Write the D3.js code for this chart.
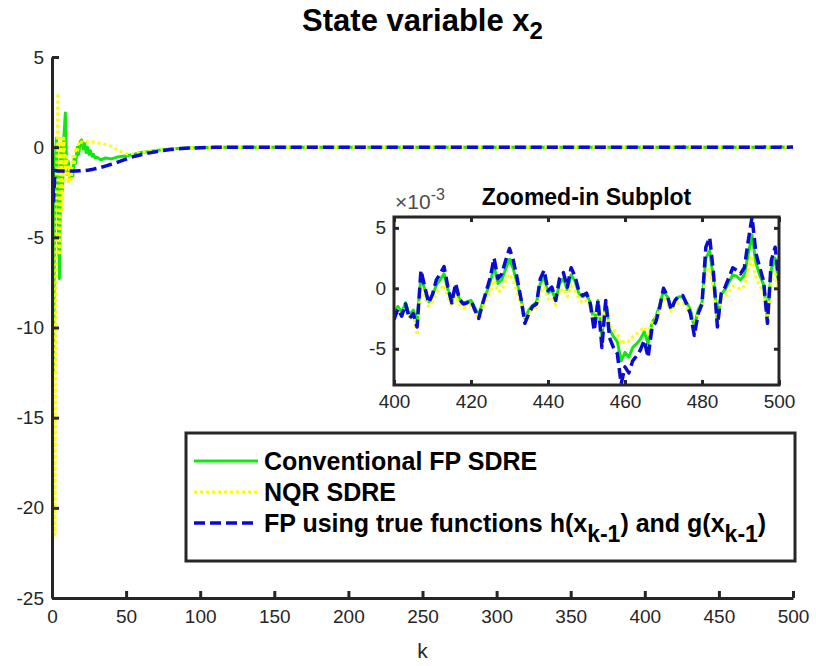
<!DOCTYPE html>
<html>
<head>
<meta charset="utf-8">
<script src="https://cdn.jsdelivr.net/npm/d3@7/dist/d3.min.js"></script>
<style>
  body { margin: 0; background: #fff; }
  text { font-family: "Liberation Sans", Arial, Helvetica, sans-serif; }
</style>
</head>
<body>
<div id="chart"></div>
<script>
// ---- data ----
// transient part of x2 (k, value)
const transK = [0,1,2,3,4,5,6,7,8,9,10,11,12,13,14,15,16,17,18,19,20,21,22,23,24,25,26,27,28,29,30,
  33,36,40,44,48,52,56,60,65,70,75,80,85,90,100,110,130,150];
const convTrans = [-0.5,-12.5,-1.0,0.5,-3.0,-7.3,0.0,-2.5,0.5,1.9,-1.5,-0.8,-1.8,-1.2,-1.6,-0.6,-0.9,0.0,-0.4,0.3,0.4,
  -0.1,0.2,-0.3,0.0,-0.4,-0.2,-0.5,-0.4,-0.6,-0.55,
  -0.7,-0.6,-0.65,-0.55,-0.5,-0.45,-0.38,-0.3,-0.25,-0.19,-0.14,-0.1,-0.07,-0.05,-0.03,-0.01,0,0];
const nqrTrans = [-0.5,-10.0,-21.5,-2.0,3.0,-6.0,0.5,-3.5,0.5,-1.5,-0.5,-2.0,-1.0,-1.8,-0.5,-1.0,0.0,-0.3,0.2,0.1,0.3,
  0.3,0.3,0.3,0.3,0.3,0.3,0.3,0.3,0.25,0.25,
  0.2,0.15,0.05,-0.15,-0.3,-0.42,-0.38,-0.3,-0.25,-0.19,-0.14,-0.1,-0.07,-0.05,-0.03,-0.01,0,0];
const fpTrans = [-0.2,-3.0,-1.3,-1.3,-1.32,-1.32,-1.32,-1.32,-1.32,-1.32,-1.32,-1.32,-1.32,-1.32,-1.32,-1.32,-1.32,-1.32,-1.31,-1.31,-1.3,
  -1.3,-1.3,-1.29,-1.28,-1.27,-1.25,-1.24,-1.22,-1.2,-1.18,
  -1.12,-1.05,-0.95,-0.84,-0.72,-0.6,-0.5,-0.42,-0.33,-0.25,-0.18,-0.13,-0.09,-0.06,-0.03,-0.01,0,0];

// steady state part, k = 400..500, values in units of 1e-3
const zoomK = d3.range(400, 501);
const convZoom = [-2.2,-1.5,-2.0,-1.2,-2.2,-1.8,-2.7,1.0,-0.1,-1.1,-0.6,0.3,0.7,1.2,-0.1,-1.1,0.1,-0.9,-1.2,-1.1,
  -1.0,-1.6,-2.2,-1.2,-0.4,0.5,1.8,0.4,0.7,1.6,2.4,1.6,0.4,-0.9,-2.5,-1.8,-1.4,-1.2,0.4,1.0,
  -0.4,-0.1,-1.0,0.4,0.8,-0.1,1.1,0.6,-0.4,-0.7,-0.5,-1.2,-2.9,-1.0,-4.0,-1.0,-3.4,-4.0,-4.4,-6.0,
  -5.3,-5.7,-4.9,-4.6,-4.2,-3.6,-4.6,-2.8,-2.4,-1.4,-0.2,-0.7,-1.6,-1.0,-0.7,-0.7,-1.2,-1.8,-3.2,-1.8,
  -1.2,2.5,3.1,0.7,-2.7,-0.5,-0.1,0.5,1.1,1.0,0.7,1.1,2.8,4.4,2.1,1.1,0.3,-2.5,1.6,2.5,0.3];
const nqrZoom = [-2.4,-1.8,-2.2,-1.6,-2.3,-2.1,-3.9,0.1,-0.7,-1.5,-1.1,-0.4,-0.1,0.3,-0.7,-1.5,-0.6,-1.3,-1.6,-1.5,
  -1.4,-1.9,-2.5,-1.6,-0.9,-0.3,0.7,-0.3,-0.1,0.6,1.2,0.6,-0.3,-1.3,-2.5,-2.1,-1.7,-1.6,-0.3,0.1,
  -0.9,-0.7,-1.4,-0.3,0.0,-0.7,0.2,-0.2,-0.9,-1.2,-1.0,-1.6,-2.9,-1.4,-3.4,-1.4,-3.0,-3.4,-3.7,-4.6,
  -4.3,-4.4,-4.0,-3.8,-3.5,-3.2,-3.8,-2.8,-2.5,-1.8,-0.8,-1.2,-1.9,-1.4,-1.2,-1.2,-1.6,-2.1,-3.1,-2.1,
  -1.6,1.2,1.7,-0.1,-2.7,-1.0,-0.7,-0.3,0.2,0.1,-0.1,0.2,1.5,2.7,0.9,0.2,-0.4,-2.5,0.6,1.2,-0.4];
const fpZoom = [-2.6,-1.7,-2.3,-1.3,-2.5,-2.1,-3.2,1.5,0.1,-1.2,-0.5,0.7,1.2,1.8,0.1,-1.2,0.4,-0.9,-1.3,-1.2,
  -1.0,-1.8,-2.5,-1.3,-0.2,0.9,2.5,0.8,1.2,2.3,3.3,2.3,0.8,-0.9,-2.9,-2.1,-1.5,-1.3,0.8,1.5,
  -0.2,0.1,-1.0,0.8,1.3,0.1,1.7,1.0,-0.2,-0.6,-0.4,-1.3,-3.5,-1.0,-4.9,-1.0,-4.1,-4.9,-5.4,-7.9,
  -6.5,-7.0,-6.0,-5.6,-5.1,-4.3,-5.7,-3.3,-2.8,-1.6,0.0,-0.6,-1.8,-1.0,-0.6,-0.6,-1.3,-2.1,-3.9,-2.1,
  -1.3,3.4,4.2,1.2,-3.2,-0.4,0.1,0.9,1.7,1.5,1.2,1.7,3.9,5.9,2.9,1.7,0.6,-2.9,2.3,3.4,0.6];

const mainXTicks = d3.range(0, 501, 50);
const mainYTicks = [-25, -20, -15, -10, -5, 0, 5];
const zoomXTicks = d3.range(400, 501, 20);
const zoomYTicks = [-5, 0, 5];

const seriesNames = ['Conventional FP SDRE', 'NQR SDRE', 'FP using true functions'];

// ---- styles ----
const axisColor = '#262626';
const styles = [
  { color: '#14e614', dash: null, width: 3 },
  { color: '#ffff00', dash: '3,3', width: 3 },
  { color: '#0a0ad2', dash: '11,5', width: 3.5 }
];
const plainNum = d => String(d);   // hyphen minus like MATLAB

const W = 816, H = 666;
const svg = d3.select('#chart').append('svg')
  .attr('width', W).attr('height', H)
  .style('background', '#fff');

function join(tk, tv, zv) {
  const pts = tk.map((k, i) => [k, tv[i]]);
  zoomK.forEach((k, i) => pts.push([k, zv[i] * 1e-3]));
  return pts;
}
const mainSeries = [
  join(transK, convTrans, convZoom),
  join(transK, nqrTrans, nqrZoom),
  join(transK, fpTrans, fpZoom)
];
const zoomSeries = [convZoom, nqrZoom, fpZoom].map(arr => zoomK.map((k, i) => [k, arr[i]]));

// ============ main axes ============
const x = d3.scaleLinear().domain([0, 500]).range([52, 793]);
const y = d3.scaleLinear().domain([-25, 5]).range([598, 57]);

svg.append('clipPath').attr('id', 'clipMain')
  .append('rect').attr('x', 52).attr('y', 57).attr('width', 741).attr('height', 541);

const line = d3.line().x(d => x(d[0])).y(d => y(d[1]));
const gMain = svg.append('g').attr('clip-path', 'url(#clipMain)');
mainSeries.forEach((s, i) => {
  gMain.append('path')
    .attr('d', line(s))
    .attr('fill', 'none')
    .attr('stroke', styles[i].color)
    .attr('stroke-width', styles[i].width)
    .attr('stroke-dasharray', styles[i].dash)
    .attr('stroke-linejoin', 'round');
});

const xAxis = svg.append('g')
  .attr('transform', `translate(0,${y(-25)})`)
  .call(d3.axisBottom(x).tickValues(mainXTicks).tickFormat(plainNum)
    .tickSizeInner(-7).tickSizeOuter(0).tickPadding(12));
const yAxis = svg.append('g')
  .attr('transform', `translate(${x(0)},0)`)
  .call(d3.axisLeft(y).tickValues(mainYTicks).tickFormat(plainNum)
    .tickSizeInner(-7).tickSizeOuter(0).tickPadding(8));

[xAxis, yAxis].forEach(a => {
  a.select('.domain').attr('stroke', axisColor).attr('stroke-width', 3);
  a.selectAll('.tick line').attr('stroke', axisColor).attr('stroke-width', 3);
  a.selectAll('.tick text').attr('fill', axisColor).attr('font-size', '19px')
    .attr('font-family', '"Liberation Sans", Arial, sans-serif');
});

svg.append('text')
  .attr('x', x(250)).attr('y', 658)
  .attr('text-anchor', 'middle')
  .attr('fill', axisColor)
  .attr('font-size', '21px')
  .text('k');

const title = svg.append('text')
  .attr('x', x(250)).attr('y', 31)
  .attr('text-anchor', 'middle')
  .attr('fill', '#000')
  .attr('font-size', '31px')
  .attr('font-weight', 'bold');
title.append('tspan').text('State variable x');
title.append('tspan').attr('dy', 8).attr('font-size', '24px').text('2');

// ============ inset ============
const zx = d3.scaleLinear().domain([400, 500]).range([394, 779]);
const zy = d3.scaleLinear().domain([-8.0, 5.9]).range([385, 217]);

svg.append('rect')
  .attr('x', 394).attr('y', 217).attr('width', 385).attr('height', 168)
  .attr('fill', '#fff');

svg.append('clipPath').attr('id', 'clipZoom')
  .append('rect').attr('x', 394).attr('y', 217).attr('width', 385).attr('height', 168);

const zline = d3.line().x(d => zx(d[0])).y(d => zy(d[1]));
const gZoom = svg.append('g').attr('clip-path', 'url(#clipZoom)');
zoomSeries.forEach((s, i) => {
  gZoom.append('path')
    .attr('d', zline(s))
    .attr('fill', 'none')
    .attr('stroke', styles[i].color)
    .attr('stroke-width', styles[i].width)
    .attr('stroke-dasharray', styles[i].dash)
    .attr('stroke-linejoin', 'round');
});

const zxAxis = svg.append('g')
  .attr('transform', `translate(0,385)`)
  .call(d3.axisBottom(zx).tickValues(zoomXTicks).tickFormat(plainNum)
    .tickSizeInner(-5).tickSizeOuter(0).tickPadding(10));
const zxAxisTop = svg.append('g')
  .attr('transform', `translate(0,217)`)
  .call(d3.axisTop(zx).tickValues(zoomXTicks).tickSizeInner(-5).tickSizeOuter(0).tickFormat(''));
const zyAxis = svg.append('g')
  .attr('transform', `translate(394,0)`)
  .call(d3.axisLeft(zy).tickValues(zoomYTicks).tickFormat(plainNum)
    .tickSizeInner(-5).tickSizeOuter(0).tickPadding(8));
const zyAxisRight = svg.append('g')
  .attr('transform', `translate(779,0)`)
  .call(d3.axisRight(zy).tickValues(zoomYTicks).tickSizeInner(-5).tickSizeOuter(0).tickFormat(''));

[zxAxis, zxAxisTop, zyAxis, zyAxisRight].forEach(a => {
  a.select('.domain').attr('stroke', 'none');
  a.selectAll('.tick line').attr('stroke', axisColor).attr('stroke-width', 3);
  a.selectAll('.tick text').attr('fill', axisColor).attr('font-size', '19px')
    .attr('font-family', '"Liberation Sans", Arial, sans-serif');
});

svg.append('rect')
  .attr('x', 394).attr('y', 217).attr('width', 385).attr('height', 168)
  .attr('fill', 'none')
  .attr('stroke', axisColor)
  .attr('stroke-width', 3);

const expo = svg.append('text')
  .attr('x', 395).attr('y', 209)
  .attr('fill', '#4d4d4d')
  .attr('font-size', '21px');
expo.append('tspan').text('\u00d710');
expo.append('tspan').attr('dy', -9).attr('font-size', '16px').text('-3');

svg.append('text')
  .attr('x', zx(450)).attr('y', 205)
  .attr('text-anchor', 'middle')
  .attr('fill', '#000')
  .attr('font-size', '23px')
  .attr('font-weight', 'bold')
  .text('Zoomed-in Subplot');

// ============ legend ============
const leg = svg.append('g');
leg.append('rect')
  .attr('x', 186).attr('y', 433).attr('width', 609).attr('height', 128)
  .attr('fill', '#fff')
  .attr('stroke', axisColor)
  .attr('stroke-width', 3);

const rowY = [461, 492, 523];
styles.forEach((s, i) => {
  leg.append('line')
    .attr('x1', 194).attr('x2', 258)
    .attr('y1', rowY[i]).attr('y2', rowY[i])
    .attr('stroke', s.color)
    .attr('stroke-width', s.width)
    .attr('stroke-dasharray', s.dash);
});

function legText(i) {
  return leg.append('text')
    .attr('x', 264).attr('y', rowY[i] + 9)
    .attr('fill', '#000')
    .attr('font-size', '25px')
    .attr('font-weight', 'bold');
}
legText(0).text(seriesNames[0]);
legText(1).text(seriesNames[1]);
const t3 = legText(2);
t3.append('tspan').text(seriesNames[2] + ' h(x');
t3.append('tspan').attr('dy', 10).attr('font-size', '23px').text('k-1');
t3.append('tspan').attr('dy', -10).text(') and g(x');
t3.append('tspan').attr('dy', 10).attr('font-size', '23px').text('k-1');
t3.append('tspan').attr('dy', -10).text(')');
</script>
</body>
</html>
